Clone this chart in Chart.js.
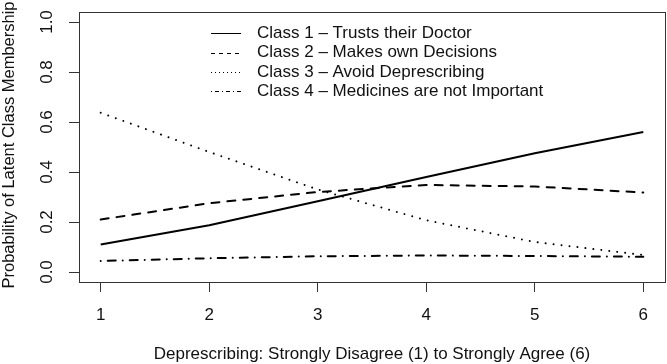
<!DOCTYPE html>
<html>
<head>
<meta charset="utf-8">
<script src="https://cdn.jsdelivr.net/npm/chart.js@4/dist/chart.umd.min.js"></script>
<style>
html, body { margin: 0; padding: 0; background: #ffffff; }
#wrap { width: 667px; height: 364px; position: relative; }
canvas { display: block; }
</style>
</head>
<body>
<div id="wrap"><canvas id="c" width="667" height="364"></canvas></div>
<script>
// ---- data ----
const xValues = [1, 2, 3, 4, 5, 6];
const class1Trusts = [0.110, 0.187, 0.283, 0.380, 0.475, 0.560];
const class2Decisions = [0.210, 0.275, 0.320, 0.348, 0.342, 0.318];
const class3Avoid = [0.637, 0.480, 0.330, 0.207, 0.120, 0.068];
const class4NotImportant = [0.044, 0.055, 0.063, 0.066, 0.064, 0.061];
const seriesLabels = [
  'Class 1 \u2013 Trusts their Doctor',
  'Class 2 \u2013 Makes own Decisions',
  'Class 3 \u2013 Avoid Deprescribing',
  'Class 4 \u2013 Medicines are not Important'
];
const xTickValues = [1, 2, 3, 4, 5, 6];
const yTickValues = [0, 0.2, 0.4, 0.6, 0.8, 1.0];
const yTickLabels = ['0.0', '0.2', '0.4', '0.6', '0.8', '1.0'];
const xTitle = 'Deprescribing: Strongly Disagree (1) to Strongly Agree (6)';
const yTitle = 'Probability of Latent Class Membership';

// ---- styles ----
const FONT = '"Liberation Sans", Arial, Helvetica, sans-serif';
const FS = 17;
const INK = '#111111';
const FRAME = '#333333';

function toXY(values) {
  return xValues.map((x, i) => ({ x: x, y: values[i] }));
}

const seriesValues = [class1Trusts, class2Decisions, class3Avoid, class4NotImportant];
const plotDashes = [[], [8, 8], [0.01, 8], [0.01, 7, 8, 7]];
const legendDashes = [[], [4, 4], [1, 3], [1, 3, 4, 3]];

const datasets = seriesValues.map((vals, i) => ({
  label: seriesLabels[i],
  data: toXY(vals),
  borderColor: '#000000',
  backgroundColor: '#000000',
  borderWidth: 2,
  borderDash: plotDashes[i],
  borderCapStyle: i === 0 ? 'butt' : 'round',
  borderJoinStyle: 'round',
  pointRadius: 0,
  pointHoverRadius: 0,
  tension: 0,
  fill: false,
  legendDash: legendDashes[i]
}));

const rPlot = {
  id: 'rPlot',
  afterDraw(chart) {
    const ctx = chart.ctx;
    const a = chart.chartArea;
    ctx.save();
    // box
    ctx.strokeStyle = FRAME;
    ctx.lineWidth = 1;
    ctx.setLineDash([]);
    ctx.strokeRect(Math.round(a.left) + 0.5, Math.round(a.top) + 0.5,
                   Math.round(a.right - a.left), Math.round(a.bottom - a.top));
    // y tick labels (rotated, as in R)
    const ys = chart.scales.y;
    ctx.fillStyle = INK;
    ctx.font = FS + 'px ' + FONT;
    ctx.textAlign = 'center';
    ctx.textBaseline = 'middle';
    ys.ticks.forEach((t) => {
      const py = ys.getPixelForValue(t.value);
      ctx.save();
      ctx.translate(47, py);
      ctx.rotate(-Math.PI / 2);
      ctx.fillText(t.label, 0, 0);
      ctx.restore();
    });
    // y title
    ctx.save();
    ctx.font = '16.5px ' + FONT;
    ctx.translate(9, 145);
    ctx.rotate(-Math.PI / 2);
    ctx.fillText(yTitle, 0, 0);
    ctx.restore();
    // legend
    ctx.font = FS + 'px ' + FONT;
    const lx0 = 211, lx1 = 241, tx = 257;
    const rowY = [33.3, 52.6, 71.9, 91.2];
    chart.data.datasets.forEach((ds, i) => {
      const y = rowY[i];
      ctx.strokeStyle = '#000000';
      ctx.lineWidth = 1;
      ctx.lineCap = 'butt';
      ctx.setLineDash(ds.legendDash);
      ctx.beginPath();
      ctx.moveTo(lx0, Math.round(y) + 0.5);
      ctx.lineTo(lx1, Math.round(y) + 0.5);
      ctx.stroke();
      ctx.setLineDash([]);
      ctx.textAlign = 'left';
      ctx.textBaseline = 'middle';
      ctx.fillText(ds.label, tx, y);
    });
    ctx.restore();
  }
};

new Chart(document.getElementById('c'), {
  type: 'line',
  data: { datasets: datasets },
  plugins: [rPlot],
  options: {
    responsive: false,
    animation: false,
    devicePixelRatio: 1,
    layout: { padding: { left: 0, top: 12, right: 2, bottom: 0 } },
    plugins: { legend: { display: false }, tooltip: { enabled: false } },
    events: [],
    scales: {
      x: {
        type: 'linear',
        min: 0.8,
        max: 6.2,
        afterBuildTicks: (s) => { s.ticks = xTickValues.map(v => ({ value: v })); },
        afterFit: (s) => { s.height = 82; },
        grid: { drawOnChartArea: false, drawTicks: true, tickLength: 10, tickColor: FRAME, tickWidth: 1 },
        border: { display: false },
        ticks: {
          color: INK,
          padding: 13,
          maxRotation: 0,
          autoSkip: false,
          font: { family: FONT, size: FS },
          callback: (v) => String(v)
        },
        title: {
          display: true,
          text: xTitle,
          color: INK,
          font: { family: FONT, size: FS, lineHeight: 1.0 },
          padding: { top: 0, bottom: 1 }
        }
      },
      y: {
        type: 'linear',
        min: -0.04,
        max: 1.04,
        afterBuildTicks: (s) => { s.ticks = yTickValues.map(v => ({ value: v })); },
        afterFit: (s) => { s.width = 79; },
        grid: { drawOnChartArea: false, drawTicks: true, tickLength: 10, tickColor: FRAME, tickWidth: 1 },
        border: { display: false },
        ticks: {
          display: false,
          autoSkip: false,
          font: { family: FONT, size: FS },
          callback: (v) => yTickLabels[yTickValues.findIndex(t => Math.abs(t - v) < 1e-9)]
        }
      }
    }
  }
});
</script>
</body>
</html>
